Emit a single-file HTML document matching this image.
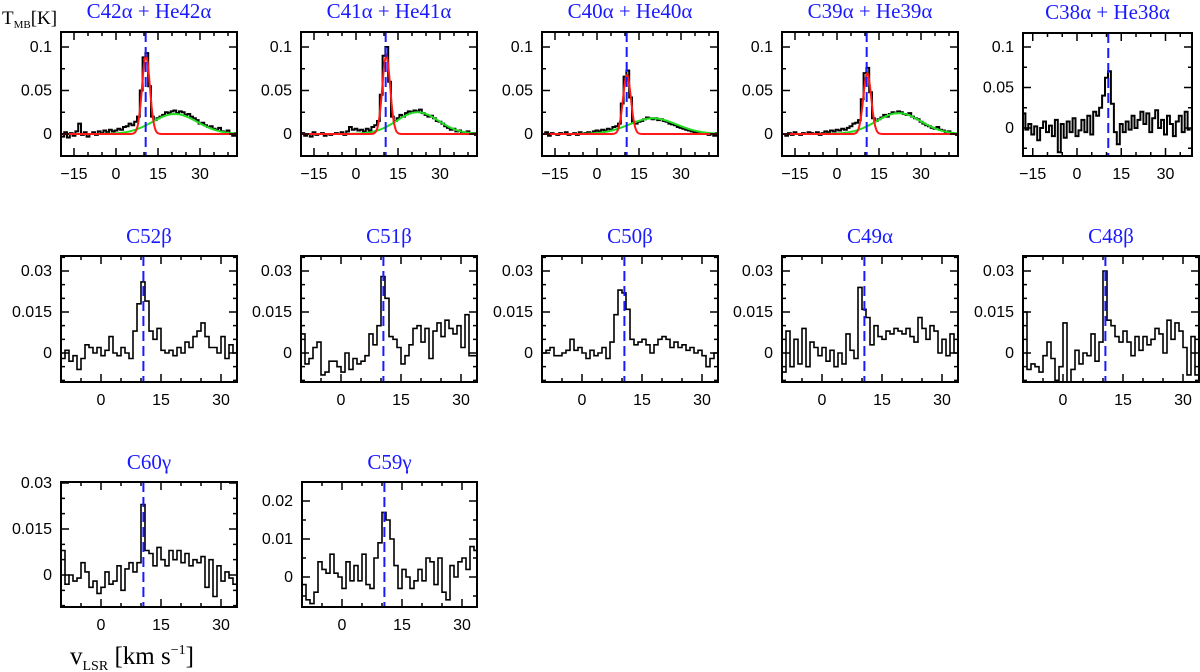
<!DOCTYPE html>
<html><head><meta charset="utf-8">
<style>
html,body{margin:0;padding:0;background:#fff;}
svg{display:block;}
.tl{font-family:"Liberation Sans",sans-serif;font-size:16px;fill:#000;}
.tt{font-family:"Liberation Serif",serif;font-size:21px;fill:#1a1aff;}
.ax{font-family:"Liberation Serif",serif;fill:#000;}
</style></head>
<body>
<svg id="fig" width="1200" height="672" viewBox="0 0 1200 672" xmlns="http://www.w3.org/2000/svg">
<text class="ax" x="2" y="24" font-size="19">T<tspan font-size="11" dy="4">MB</tspan><tspan dy="-4">[K]</tspan></text>
<text class="ax" x="70" y="664" font-size="25">v<tspan font-size="14" dy="6">LSR</tspan><tspan dy="-6"> [km s</tspan><tspan font-size="14" dy="-10">−1</tspan><tspan dy="10">]</tspan></text>
</svg>
<script>
// ---- data (velocity channels, values in mK) ----
const titles = ["C42α + He42α","C41α + He41α","C40α + He40α","C39α + He39α","C38α + He38α",
 "C52β","C51β","C50β","C49α","C48β","C60γ","C59γ"];
const lineVelocity = 10.6;
const vStartRow1 = -19;   // channel step 1 km/s
const vStartC38 = -18;
const vStartRow23 = -9.5;
const spec0 = [-3,2,-4,1,-2,3,12,-1,2,-3, 0,2,-1,3,1,4,2,5,3,4, 6,5,8,9,12,10,14,20,50,88, 93,55,20,16,18,20,22,25,24,26, 27,24,26,25,22,23,20,18,16,12, 13,10,8,9,6,5,7,3,2,4, 0,-2,1];
const spec1 = [1,-2,0,-3,2,-1,0,1,-2,0, -1,0,1,0,2,-1,3,8,5,6, 4,5,3,6,4,8,10,15,45,90, 100,60,20,15,18,22,20,24,26,25, 27,26,28,24,22,20,21,18,15,14, 12,9,7,5,6,3,4,2,1,3, 0,1,-1];
const spec2 = [0,2,-2,1,0,-1,1,0,2,-1, 0,1,-1,2,0,1,2,1,3,4, 3,5,4,6,5,8,9,12,35,66, 73,42,14,12,14,15,17,19,18,17, 18,16,17,15,14,12,11,10,8,7, 6,5,4,3,2,2,1,0,1,-1, 0,-2,1];
const spec3 = [0,-2,1,-1,2,0,-1,1,0,2, 1,0,2,-1,1,3,2,4,3,5, 4,6,5,7,9,12,13,16,40,70, 76,48,18,15,17,19,22,20,23,25, 24,26,25,23,22,24,20,18,17,14, 12,10,9,7,6,8,5,4,2,3, 1,0,-1];
const spec4 = [18,-2,5,-8,2,-15,0,8,-5,3, -10,10,-30,5,-12,8,-5,12,-10,-3, 10,-5,15,-8,20,15,25,40,62,70, 30,-5,-20,5,-5,8,-2,15,0,10, 20,5,18,-5,12,22,0,10,-8,15, 5,-10,8,15,-5,20,-2];
const spec5 = [-2,1,-3,-1,-6,-2,3,2,0,2, -1,1,6,0,-1,2,0,-2,8,18, 26,19,8,5,9,1,0,1,-1,2, 0,4,2,6,8,11,6,2,2,0, 6,-2,3,0];
const spec6 = [7,-4,-2,2,4,-8,-7,-3,-3,-5, -7,0,-6,-2,-4,-3,-1,7,3,10, 28,20,6,5,2,-4,-1,3,9,10, 4,9,-2,8,11,6,12,9,7,10, 2,14,-1,-1];
const spec7 = [0,1,2,-1,-1,0,1,5,1,2, 0,-2,1,-1,0,2,-2,4,14,23, 22,16,5,3,4,5,3,0,3,5, 6,5,2,4,2,3,1,2,0,1, -1,-5,-2,0];
const spec8 = [-7,8,-5,5,-4,9,-5,4,2,-1, 2,-3,1,-5,0,-4,7,1,-2,24, 16,13,3,10,6,5,8,7,9,8, 7,9,6,4,13,9,5,10,8,0, 5,-1,7,0];
const spec9 = [15,-6,-4,-5,-7,-1,4,-2,-10,-5, 11,-12,-6,1,-4,0,-1,7,-3,4, 30,12,10,6,4,8,4,-1,6,1, 6,3,5,9,7,0,12,5,11,8, 2,-8,6,-8];
const spec10 = [8,-3,0,-2,-1,4,1,-4,-2,-6, -4,1,-3,-2,3,-5,2,4,1,4, 23,8,7,3,9,5,3,8,5,8, 4,7,3,5,4,6,-4,5,-7,3, -2,1,-1,-3];
const spec11 = [-2,-6,-7,-4,4,2,1,6,1,0, -3,4,-1,3,-1,6,-2,-3,5,9, 17,15,10,3,-3,2,0,-3,-1,2, -1,5,4,-2,5,-4,-6,3,0,4, 5,2,8,7];
// Gaussian fits: [amplitude K, centre km/s, sigma km/s]
const redFits = [[0.090,10.7,1.4],[0.090,10.8,1.4],[0.068,10.7,1.4],[0.070,10.8,1.4]];
const greenFits = [[0.023,21,8],[0.025,22,7.5],[0.018,20,8.5],[0.024,22,8]];
const ticksRow1X = [-15,0,15,30];
const ticksRow23X = [0,15,30];
const ticksRow1Y = [0,0.05,0.1];
const ticksRow2Y = [0,0.015,0.03];
const ticksC59Y = [0,0.01,0.02];

const specs=[spec0,spec1,spec2,spec3,spec4,spec5,spec6,spec7,spec8,spec9,spec10,spec11];
const NS="http://www.w3.org/2000/svg";
const svg=document.getElementById('fig');
function mk(t,a){const e=document.createElementNS(NS,t);for(const k in a)e.setAttribute(k,a[k]);return e;}
const lefts=[61,301,542,782,1023];
const layouts=[];
for(let i=0;i<5;i++){
  if(i<4) layouts.push({l:lefts[i],t:32,w:176,h:124,x0:55,sx:2.8,y0:134,sy:870,v0:vStartRow1,xt:ticksRow1X,yt:ticksRow1Y,ym:0.025});
  else layouts.push({l:lefts[i],t:33,w:169,h:123,x0:54,sx:2.95,y0:128,sy:810,v0:vStartC38,xt:ticksRow1X,yt:ticksRow1Y,ym:0.025});
}
for(let i=0;i<5;i++) layouts.push({l:lefts[i],t:256,w:176,h:126,x0:40,sx:4,y0:353,sy:2733,v0:vStartRow23,xt:ticksRow23X,yt:ticksRow2Y,ym:0.005});
layouts.push({l:61,t:482,w:176,h:125,x0:40,sx:4,y0:575,sy:3067,v0:vStartRow23,xt:ticksRow23X,yt:ticksRow2Y,ym:0.005});
layouts.push({l:302,t:482,w:175,h:125,x0:40,sx:4,y0:577,sy:3800,v0:vStartRow23,xt:ticksRow23X,yt:ticksC59Y,ym:0.005});

layouts.forEach((L,p)=>{
  const X=v=>L.l+L.x0+v*L.sx;
  const Y=t=>L.y0-t*L.sy;
  const vmin=(L.l-X(0))/L.sx, vmax=(L.l+L.w-X(0))/L.sx;
  const tmin=(L.y0-(L.t+L.h))/L.sy, tmax=(L.y0-L.t)/L.sy;
  const g=mk('g',{});
  
  
  svg.appendChild(g);
  const cp=mk('clipPath',{id:'c'+p});cp.appendChild(mk('rect',{x:L.l,y:L.t,width:L.w,height:L.h}));g.appendChild(cp);
  const tt=mk('text',{class:'tt',x:L.l+L.w/2,y:L.t-(p<5?14:13),'text-anchor':'middle'});
  
  
  tt.textContent=titles[p];g.appendChild(tt);
  const s=specs[p];let d='';
  s.forEach((val,i)=>{const v=L.v0+i;const y=Y(val/1000);
    d+=(i===0?'M':'L')+X(v-0.5).toFixed(1)+','+y.toFixed(1)+'L'+X(v+0.5).toFixed(1)+','+y.toFixed(1);});
  const sp=mk('path',{d:d,fill:'none',stroke:'#000','stroke-width':p<5?2:1.6,'clip-path':'url(#c'+p+')'});
  
  
  g.appendChild(sp);
  if(p<4){
    [[greenFits[p],'#22dd22','green-fit-curve'],[redFits[p],'#ff1a1a','red-fit-curve']].forEach(([f,c,n])=>{
      let dd='';for(let k=0;k<=200;k++){const v=vmin+(vmax-vmin)*k/200;const t=f[0]*Math.exp(-((v-f[1])**2)/(2*f[2]*f[2]));dd+=(k?'L':'M')+X(v).toFixed(1)+','+Y(t).toFixed(1);}
      const fp=mk('path',{d:dd,fill:'none',stroke:c,'stroke-width':2,'clip-path':'url(#c'+p+')'});
      
      
      g.appendChild(fp);
    });
  }
  const dl=mk('line',{x1:X(lineVelocity),x2:X(lineVelocity),y1:L.t,y2:L.t+L.h,stroke:'#1a1aff','stroke-width':2,'stroke-dasharray':'10,5'});
  
  
  g.appendChild(dl);
  let td='';
  for(let v=Math.ceil(vmin/5)*5;v<=vmax;v+=5){const len=(v%15===0)?8:4;const x=X(v);td+=`M${x},${L.t+L.h}v${-len}M${x},${L.t}v${len}`;}
  for(let t=Math.ceil(tmin/L.ym-1e-6)*L.ym;t<=tmax+1e-9;t+=L.ym){const maj=L.yt.some(q=>Math.abs(q-t)<1e-6);const len=maj?8:4;const y=Y(t);td+=`M${L.l},${y}h${len}M${L.l+L.w},${y}h${-len}`;}
  const tk=mk('path',{d:td,stroke:'#000','stroke-width':1.5,fill:'none'});
  
  
  g.appendChild(tk);
  const fr=mk('rect',{x:L.l,y:L.t,width:L.w,height:L.h,fill:'none',stroke:'#000','stroke-width':2});
  
  
  g.appendChild(fr);
  L.xt.forEach(v=>{const t=mk('text',{class:'tl',x:X(v),y:L.t+L.h+23,'text-anchor':'middle'});
    
    
    t.textContent=(v<0?'−':'')+Math.abs(v);g.appendChild(t);});
  L.yt.forEach(v=>{const t=mk('text',{class:'tl',x:L.l-9,y:Y(v)+5,'text-anchor':'end'});
    
    
    t.textContent=String(v);g.appendChild(t);});
});
</script>
</body></html>
